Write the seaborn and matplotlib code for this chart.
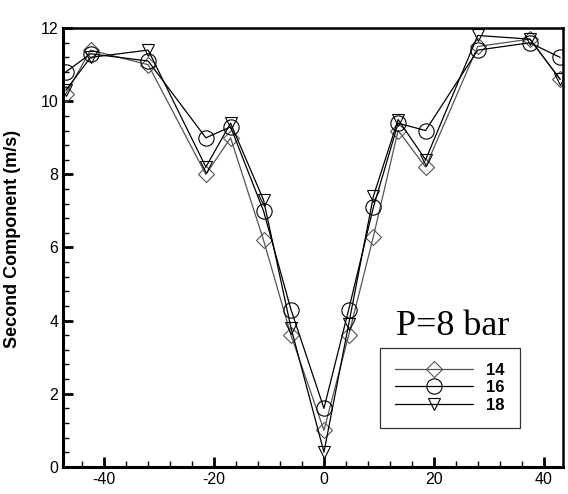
import numpy as np
import pandas as pd
import matplotlib
matplotlib.use("Agg")
import matplotlib.pyplot as plt
import seaborn as sns
from matplotlib.ticker import MultipleLocator

# ==========================================
# DATA
# ==========================================
positions = [-47, -42.5, -32, -21.5, -17, -11, -6, 0, 4.5, 9, 13.5, 18.5, 28, 37.5, 43]
series_names = ["14", "16", "18"]
values_14 = [10.2, 11.4, 11.0, 8.0, 9.0, 6.2, 3.6, 1.0, 3.6, 6.3, 9.2, 8.2, 11.5, 11.7, 10.6]
values_16 = [10.8, 11.3, 11.1, 9.0, 9.3, 7.0, 4.3, 1.6, 4.3, 7.1, 9.4, 9.2, 11.4, 11.6, 11.2]
values_18 = [10.3, 11.2, 11.4, 8.2, 9.4, 7.3, 3.8, 0.4, 3.9, 7.4, 9.5, 8.4, 11.8, 11.7, 10.6]

df = pd.concat([
    pd.DataFrame({"x": positions, "y": vals, "series": name})
    for name, vals in zip(series_names, [values_14, values_16, values_18])
], ignore_index=True)

# ==========================================
# PLOT
# ==========================================
sns.set_theme(style="white")
plt.rcParams['font.family'] = ['Liberation Sans', 'DejaVu Sans']
plt.rcParams['axes.unicode_minus'] = False
plt.rcParams['text.color'] = 'black'
plt.rcParams['axes.labelcolor'] = 'black'
plt.rcParams['xtick.color'] = 'black'
plt.rcParams['ytick.color'] = 'black'

fig = plt.figure(figsize=(5.68, 4.94), dpi=100)
ax = fig.add_axes([0.111, 0.055, 0.880, 0.888])

markers = {"14": "D", "16": "o", "18": "v"}
palette = {"14": "#555555", "16": "black", "18": "black"}
sizes = {"14": 8, "16": 11, "18": 9}

for name in series_names:
    sub = df[df["series"] == name]
    sns.lineplot(data=sub, x="x", y="y", ax=ax, color=palette[name],
                 marker=markers[name], markersize=sizes[name],
                 markerfacecolor="none", markeredgecolor=palette[name],
                 markeredgewidth=0.8, linewidth=0.9, sort=False,
                 label=name, legend=False)

ax.set_xlim(-47.5, 43.5)
ax.set_ylim(0, 12)
ax.xaxis.set_major_locator(MultipleLocator(20))
ax.xaxis.set_minor_locator(MultipleLocator(4))
ax.yaxis.set_major_locator(MultipleLocator(2))
ax.yaxis.set_minor_locator(MultipleLocator(0.4))
ax.tick_params(axis="both", which="major", direction="in", length=7, width=2,
               labelsize=11.5, top=False, right=False, bottom=True, left=True)
ax.tick_params(axis="both", which="minor", direction="in", length=4, width=1,
               top=False, right=False, bottom=True, left=True)
for side in ["left", "bottom"]:
    ax.spines[side].set_linewidth(2.2)
for side in ["top", "right"]:
    ax.spines[side].set_linewidth(1.8)
for sp in ax.spines.values():
    sp.set_color("black")

ax.set_xlabel("")
ax.set_ylabel("Second Component (m/s)", fontsize=13, fontweight="bold", labelpad=6)
ax.yaxis.set_label_coords(-0.085, 0.52)

ax.text(0.78, 0.30, "P=8 bar", transform=ax.transAxes, fontsize=26,
        family=["Liberation Serif", "DejaVu Serif"], ha="center", va="baseline")

leg = ax.legend(loc="lower right", bbox_to_anchor=(0.914, 0.089), frameon=True,
                fancybox=False, edgecolor="black", fontsize=12,
                handlelength=4.7, labelspacing=0.15, borderpad=0.9,
                handletextpad=0.8, borderaxespad=0)
leg.get_frame().set_linewidth(0.9)
for t in leg.get_texts():
    t.set_fontweight("bold")

fig.savefig("out.png", dpi=100)
